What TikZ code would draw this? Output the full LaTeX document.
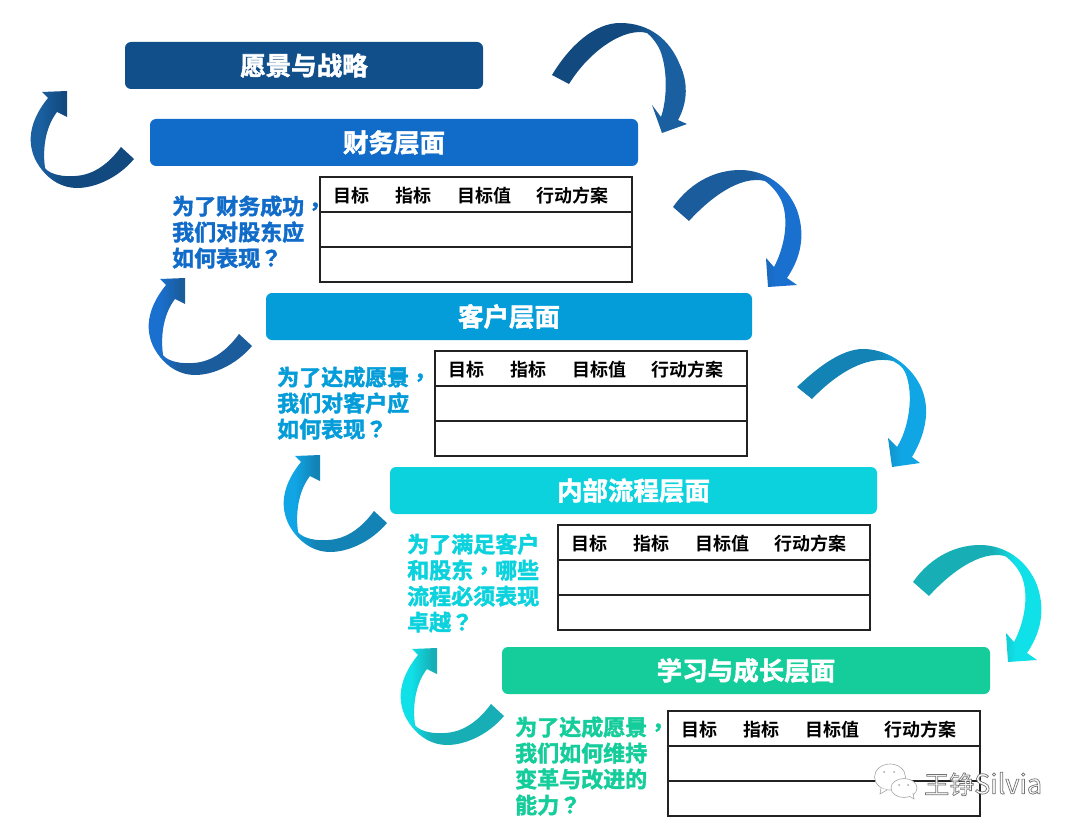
\documentclass[tikz,border=0pt]{standalone}
\usepackage{fontspec}
\setmainfont{Noto Sans CJK SC}[BoldFont={Noto Sans CJK SC Bold}]
\newfontfamily\cjkbold{Noto Sans CJK SC Bold}[FakeBold=2]
\newfontfamily\cjktc{Noto Sans CJK TC Bold}[FakeBold=2]
\newfontfamily\cjkhead{Noto Sans CJK SC Bold}
\newfontfamily\wmfont{Noto Sans CJK SC}
\definecolor{cA}{HTML}{114F8A}
\definecolor{cB}{HTML}{116CC9}
\definecolor{cC}{HTML}{059DD9}
\definecolor{cD}{HTML}{0BD2DC}
\definecolor{cE}{HTML}{14CD9B}
\definecolor{tabline}{HTML}{222222}
\definecolor{aAd}{HTML}{124A80}\definecolor{aAl}{HTML}{1A5F9F}
\definecolor{aBd}{HTML}{1A5C9C}\definecolor{aBl}{HTML}{1A70CF}
\definecolor{aCd}{HTML}{1383B5}\definecolor{aCl}{HTML}{10A5E5}
\definecolor{aDd}{HTML}{17AEB5}\definecolor{aDl}{HTML}{10E0E8}
\newcommand{\mkshade}[1]{%
  \pgfdeclarehorizontalshading{rs#1}{100bp}{color(0bp)=(a#1d); color(55bp)=(a#1d); color(64bp)=(a#1l); color(100bp)=(a#1l)}%
  \pgfdeclarehorizontalshading{ls#1}{100bp}{color(0bp)=(a#1l); color(32bp)=(a#1l); color(42bp)=(a#1d); color(100bp)=(a#1d)}}
\mkshade{A}\mkshade{B}\mkshade{C}\mkshade{D}
\tikzset{
  bar/.style={rounded corners=6pt,inner sep=0pt,text=white,
    font=\cjkbold\fontsize{25.5}{25}\selectfont,minimum height=47pt},
  side/.style={anchor=west,inner sep=0pt,align=left,
    font=\cjkbold\fontsize{22}{26}\selectfont},
  tabhead/.style={inner sep=0pt,text=black,font=\cjkhead\fontsize{18}{18}\selectfont},
  tabframe/.style={draw=tabline,line width=1.7pt},
  wm/.style={draw=gray!70,fill=white,line width=0.6pt}
}
\newcommand{\infotable}[3]{%
  \begin{scope}[shift={(#1,#2)}]
    \draw[tabframe] (0,0) rectangle (312,105);
    \draw[tabframe] (0,35) -- (312,35);
    \draw[tabframe] (0,70) -- (312,70);
    \node[tabhead] (#3a) at (31,19) {目标};
    \node[tabhead] (#3b) at (93,19) {指标};
    \node[tabhead] (#3c) at (164,19) {目标值};
    \node[tabhead] (#3d) at (252,19) {行动方案};
  \end{scope}}
\newcommand{\pathRtwo}{(673,207) .. controls (692,180) and (718,170) .. (740,170)
  .. controls (765,170) and (787,185) .. (797,210)
  .. controls (804,230) and (804,253) .. (787,278)
  -- (797,285) -- (768,287) -- (766,258) -- (774,267)
  .. controls (783,250) and (789,225) .. (783,205)
  .. controls (780,195) and (772,186) .. (765,181)
  .. controls (740,175) and (710,198) .. (689,221) -- cycle}
\newcommand{\pathL}{(134,159) .. controls (118,178) and (95,188) .. (77,188)
  .. controls (62,188) and (50,180) .. (42,170)
  .. controls (26,150) and (26,125) .. (48,98)
  -- (42,92) -- (67,91) -- (67,117) -- (57,112)
  .. controls (47,125) and (42,145) .. (45,168)
  .. controls (50,175) and (65,177) .. (75,176)
  .. controls (95,175) and (110,162) .. (121,147) -- cycle}
\begin{document}
\begin{tikzpicture}[x=1pt,y=-1pt]
\useasboundingbox (0,0) rectangle (1080,832);
% bars
\node[bar,fill=cA,minimum width=358pt] (v) at (304,65.5) {愿景与战略};
\node[bar,fill=cB,minimum width=488pt] (f) at (394,142.5) {财务层面};
\node[bar,fill=cC,minimum width=486pt] (c) at (509,316.5) {客户层面};
\node[bar,fill=cD,minimum width=487pt] (p) at (633.5,490.5) {内部流程层面};
\node[bar,fill=cE,minimum width=488pt] (l) at (746,670.5) {学习与成长层面};
% tables
\infotable{320}{177}{ta}
\infotable{435}{351}{tb}
\infotable{558}{525}{tc}
\infotable{668}{711}{td}
% side texts
\node[side,text=cB] (sa) at (172,232) {为了财务成功{\cjktc ，}\\我们对股东应\\如何表现{\cjktc ？}};
\node[side,text=cC] (sb) at (277,403) {为了达成愿景{\cjktc ，}\\我们对客户应\\如何表现{\cjktc ？}};
\node[side,text=cD] (sc) at (407,583) {为了满足客户\\和股东{\cjktc ，}哪些\\流程必须表现\\卓越{\cjktc ？}};
\node[side,text=cE] (sd) at (515,766) {为了达成愿景{\cjktc ，}\\我们如何维持\\变革与改进的\\能力{\cjktc ？}};
% right arrows
\shade[shading=rsA] (552,75) .. controls (570,45) and (595,23) .. (620,23)
  .. controls (650,23) and (670,40) .. (680,65)
  .. controls (688,82) and (688,102) .. (678,120)
  -- (687,124) -- (662,133) -- (652,105) -- (661,117)
  .. controls (667,100) and (668,70) .. (660,50)
  .. controls (656,42) and (652,37) .. (647,33)
  .. controls (625,27) and (590,50) .. (569,84) -- cycle;
\shade[shading=rsB] \pathRtwo;
\shade[shading=rsC] (797,387) .. controls (815,370) and (840,349) .. (863,349)
  .. controls (885,349) and (908,362) .. (920,385)
  .. controls (930,405) and (928,430) .. (912,457)
  -- (920,463) -- (892,467) -- (888,438) -- (897,447)
  .. controls (908,430) and (915,395) .. (905,372)
  .. controls (902,366) and (898,364) .. (893,361)
  .. controls (865,355) and (835,375) .. (812,399) -- cycle;
\begin{scope}[shift={(240,375)}]
\shade[shading=rsD] \pathRtwo;
\end{scope}
% left arrows
\shade[shading=lsA] \pathL;
\begin{scope}[shift={(118,187)}]
\shade[shading=lsB] \pathL;
\end{scope}
\begin{scope}[shift={(253,364)}]
\shade[shading=lsC] \pathL;
\end{scope}
\begin{scope}[shift={(370,557)}]
\shade[shading=lsD] \pathL;
\end{scope}
% watermark
\draw[wm] (890,777) ellipse (15.5 and 13);
\draw[wm] (881,788) -- (880,794) -- (887,790);
\draw[wm] (904,788) ellipse (13 and 9.5);
\draw[wm] (909,796) -- (914,799) -- (913,793);
\fill[gray!70] (884,772) circle (1) (894,772) circle (1) (899,785) circle (1) (908,785) circle (1);
\node[inner sep=0pt,anchor=west,text=white,font=\wmfont\fontsize{25}{25}\selectfont] (wmtext) at (924,784)
  {\special{pdf:code 2 Tr 0.7 w 0.45 G 1 g}王铮{\fontsize{27}{25}\selectfont Silvia}\special{pdf:code 0 Tr}};
\end{tikzpicture}
\end{document}
